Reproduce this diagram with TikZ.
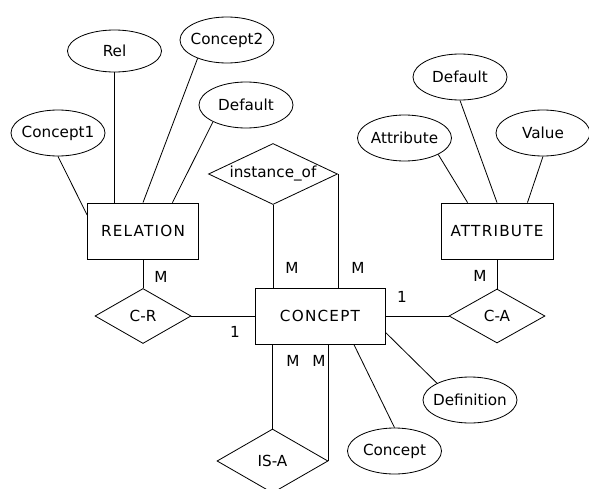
\documentclass[tikz,border=0pt]{standalone}
\usepackage{fontspec}
\setmainfont{DejaVu Sans}
\newfontfamily\capsfont[LetterSpace=8]{DejaVu Sans}
\usetikzlibrary{shapes.geometric}

\begin{document}
\begin{tikzpicture}[x=0.3mm,y=-0.3mm,line width=0.7pt,
    font=\fontsize{13}{15}\selectfont,
    ent/.style={rectangle,draw=black,inner sep=0pt,minimum height=16.8mm,font=\capsfont\fontsize{13}{15}\selectfont},
    rship/.style={diamond,draw=black,inner sep=0pt,aspect=2},
    attr/.style={ellipse,draw=black,inner xsep=-3mm,inner ysep=0pt,minimum width=28.2mm,minimum height=13.8mm}]

      \useasboundingbox (0,0) rectangle (589,489);

      \node[attr,minimum height=12.6mm] (rel) at (114.5,51){Rel};
      \node[attr] (c2) at (227,40){Concept2};
      \node[attr] (d1) at (246,105){Default};
      \node[attr] (c1) at (58,133){Concept1};
      \node[ent,minimum width=33.3mm] (r) at (143,231){RELATION};
      \node[rship,minimum width=28.8mm,minimum height=16.5mm] (cr) at (143,316){C-R};

      \node[rship,minimum width=38.7mm,minimum height=18.3mm] (io) at (273,174){instance\_of};
      \node[ent,minimum width=39mm] (c) at (320,316){CONCEPT};
      \node[rship,minimum width=33.3mm,minimum height=19.2mm] (ia) at (272.5,461){IS-A};
      \node[attr] (cp) at (394.5,451){Concept};
      \node[attr] (df) at (470,400){Definition};

      \node[attr] (d2) at (460,77){Default};
      \node[attr] (at) at (404.5,138){Attribute};
      \node[attr] (v) at (543,133){Value};
      \node[ent,minimum width=33.6mm] (t) at (497,231){ATTRIBUTE};
      \node[rship,minimum width=28.8mm,minimum height=16.2mm] (ca) at (497,316){C-A};

      \node (m1) at (161,277){M};
      \node (n1) at (235,332){1};
      \node (m2) at (292,268){M};
      \node (m3) at (358,268){M};
      \node (m4) at (293,361){M};
      \node (m5) at (319,361){M};
      \node (n2) at (402,297){1};
      \node (m6) at (480,276){M};

      \draw (c1.south) -- (r.164);
      \draw (rel.south) -- (rel.south |- r.north);
      \draw (c2.212) -- (r.north);
      \draw (d1.207) -- (r.44);
      \draw (r.south) -- (cr.north);
      \draw (cr.east) -- (c.west);
      \draw (io.south) -- (io.south |- c.north);
      \draw (io.east) -- (io.east |- c.north);
      \draw (ia.north) -- (ia.north |- c.south);
      \draw (ia.east) -- (ia.east |- c.south);
      \draw (c.-40) -- (cp.north);
      \draw (c.-14) -- (df.153);
      \draw (c.east) -- (ca.west);
      \draw (t.south) -- (ca.north);
      \draw (at.-26) -- (t.136);
      \draw (d2.south) -- (t.north);
      \draw (v.south) -- (t.43);
    \end{tikzpicture}
\end{document}
